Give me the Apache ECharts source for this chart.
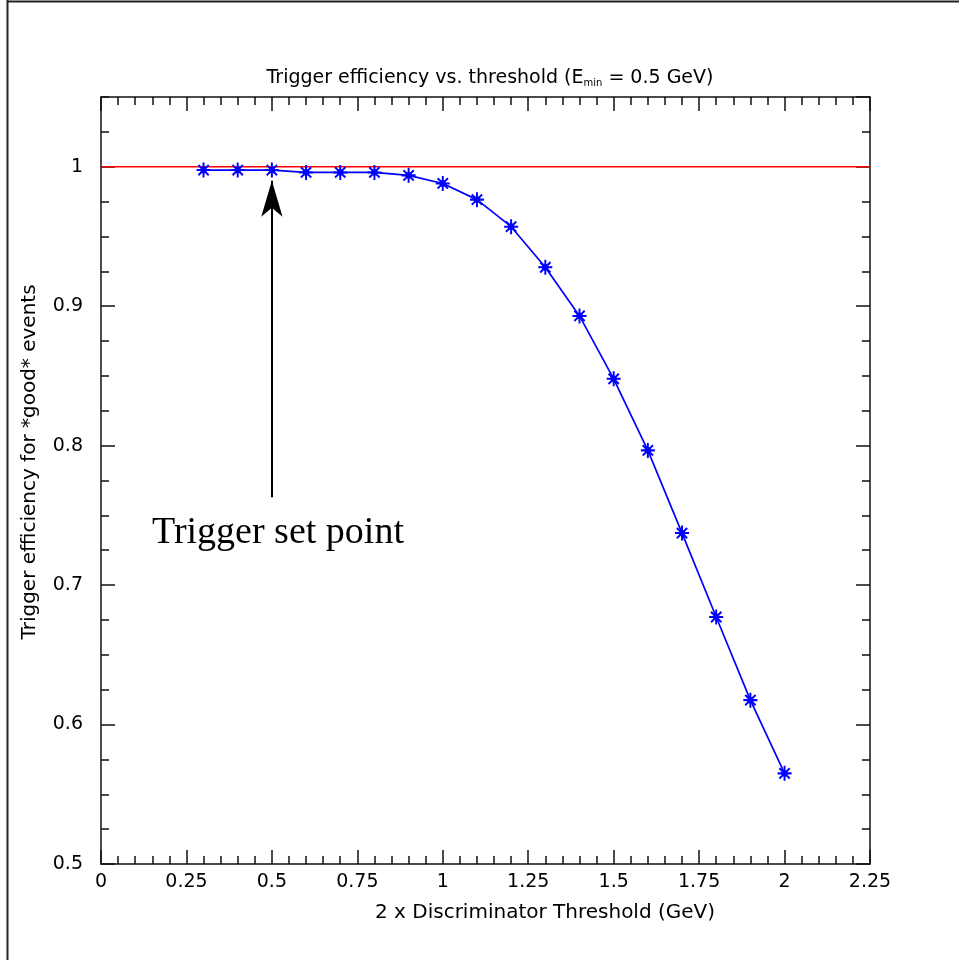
<!DOCTYPE html>
<html>
<head>
<meta charset="utf-8">
<script src="https://cdn.jsdelivr.net/npm/echarts@6/dist/echarts.min.js"></script>
<style>
html,body{margin:0;padding:0;background:#fff;}
#chart{width:959px;height:960px;}
</style>
</head>
<body>
<div id="chart"></div>
<script>
// ---- data ----
const thresholds = [0.3, 0.4, 0.5, 0.6, 0.7, 0.8, 0.9, 1.0, 1.1, 1.2, 1.3, 1.4, 1.5, 1.6, 1.7, 1.8, 1.9, 2.0];
const efficiency = [0.9976, 0.9976, 0.9976, 0.9959, 0.9959, 0.9959, 0.9938, 0.988, 0.9764, 0.957, 0.9279, 0.893, 0.8479, 0.7966, 0.7373, 0.6771, 0.6175, 0.565];
const referenceLevel = [[0, 1], [2.25, 1]];
const setPointArrow = [[0.5, 0.763], [0.5, 0.99]];

const titleText = 'Trigger efficiency vs. threshold (E{sub|min} = 0.5 GeV)';
const xName = '2 x Discriminator Threshold (GeV)';
const yName = 'Trigger efficiency for *good* events';
const annotation = 'Trigger set point';

const FONT = '"DejaVu Sans", sans-serif';
const INK = '#111';

const chart = echarts.init(document.getElementById('chart'), null, {renderer: 'canvas'});

function xAx(pos, labels) {
  return {
    type: 'value', position: pos, min: 0, max: 2.25, interval: 0.25,
    axisLine: {show: true, onZero: false, lineStyle: {color: INK, width: 1.5}},
    axisTick: {show: true, inside: true, length: 14, lineStyle: {color: INK, width: 1.5}},
    minorTick: {show: true, splitNumber: 5, length: 8, lineStyle: {color: INK, width: 1.5}},
    axisLabel: {show: labels, margin: 9, color: '#000', fontFamily: FONT, fontSize: 19},
    splitLine: {show: false}, minorSplitLine: {show: false}
  };
}
function yAx(pos, interval, len, labels, line) {
  return {
    type: 'value', position: pos, min: 0.5, max: 1.05, interval: interval,
    axisLine: {show: line, onZero: false, lineStyle: {color: INK, width: 1.5}},
    axisTick: {show: true, inside: true, length: len, lineStyle: {color: INK, width: 1.5}},
    axisLabel: {show: labels, margin: 18, color: '#000', fontFamily: FONT, fontSize: 19, showMaxLabel: false},
    splitLine: {show: false}
  };
}

const option = {
  animation: false,
  backgroundColor: '#fff',
  title: {
    text: titleText,
    left: 485, top: 64, textAlign: 'center',
    textStyle: {
      fontFamily: FONT, fontSize: 19, fontWeight: 'normal', color: '#000',
      rich: {sub: {fontFamily: FONT, fontSize: 10, color: '#000', verticalAlign: 'bottom', lineHeight: 10, padding: [8, 0, 0, 0]}}
    }
  },
  grid: {left: 101, top: 97, width: 769, height: 767, containLabel: false, outerBoundsMode: 'none'},
  xAxis: [xAx('bottom', true), xAx('top', false)],
  yAxis: [
    yAx('left', 0.1, 14, true, true),
    yAx('left', 0.025, 8, false, false),
    yAx('right', 0.1, 14, false, true),
    yAx('right', 0.025, 8, false, false)
  ],
  series: [
    {
      name: 'reference', type: 'line', xAxisIndex: 0, yAxisIndex: 0,
      data: referenceLevel, symbol: 'none', clip: false,
      lineStyle: {color: '#ff0000', width: 1.6}, zlevel: 1, z: 2, silent: true
    },
    {
      name: 'efficiency', type: 'line', xAxisIndex: 0, yAxisIndex: 0,
      data: thresholds.map((t, i) => [t, efficiency[i]]),
      symbol: 'path://M0,-7L0,7M-6.5,0L6.5,0M-4.8,-4.8L4.8,4.8M-4.8,4.8L4.8,-4.8M-2,-2L2,-2L2,2L-2,2Z',
      symbolSize: [14, 15],
      itemStyle: {color: '#0000ff', borderColor: '#0000ff', borderWidth: 2},
      lineStyle: {color: '#0000ff', width: 1.7},
      zlevel: 1, z: 3,
      markLine: {
        silent: true, animation: false,
        symbol: ['none', 'arrow'], symbolSize: [16, 36],
        label: {show: false},
        lineStyle: {color: '#000', width: 2, type: 'solid'},
        emphasis: {disabled: true},
        data: [[
          {coord: setPointArrow[0]},
          {coord: setPointArrow[1]}
        ]]
      }
    }
  ],
  graphic: [
    {type: 'line', shape: {x1: 7.5, y1: 0, x2: 7.5, y2: 960}, style: {stroke: '#222', lineWidth: 2}},
    {type: 'line', shape: {x1: 7, y1: 1.5, x2: 959, y2: 1.5}, style: {stroke: '#222', lineWidth: 2}},
    {type: 'text', x: 375, y: 913, style: {text: xName, font: '20px ' + FONT, fill: '#000', align: 'left', verticalAlign: 'middle'}},
    {type: 'text', x: 30, y: 462, rotation: Math.PI / 2, style: {text: yName, font: '20px ' + FONT, fill: '#000', align: 'center', verticalAlign: 'middle'}},
    {type: 'text', x: 152, y: 533, style: {text: annotation, font: '38px "Liberation Serif", serif', fill: '#000', align: 'left', verticalAlign: 'middle'}}
  ]
};
chart.setOption(option);
</script>
</body>
</html>
